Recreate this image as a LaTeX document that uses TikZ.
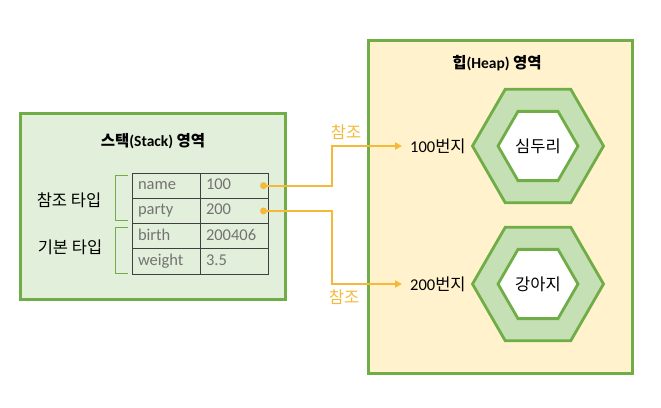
\documentclass[tikz,border=0pt]{standalone}
\usepackage{fontspec}
\setmainfont{Carlito}
\newfontfamily\krfont{Noto Sans CJK KR}
\usepackage{tikz}
\usetikzlibrary{shapes.geometric,positioning,arrows.meta,calc}
\usepackage{xcolor}
\definecolor{leafgreen}{HTML}{70AD47}
\definecolor{stackfill}{HTML}{E2EFDA}
\definecolor{heapfill}{HTML}{FFF2CC}
\definecolor{hexfill}{HTML}{C5E0B4}
\definecolor{refgold}{HTML}{F5B93A}
\tikzset{
  >={Triangle[length=7pt,width=7pt]},
}

\begin{document}
\begin{tikzpicture}[
  x=1pt, y=-1pt,
  every node/.style={font=\fontsize{16.5}{19}\selectfont},
  area/.style={draw=leafgreen,line width=3pt,inner sep=0pt},
  areatitle/.style={font=\fontsize{15.5}{18}\selectfont\bfseries},
  cell/.style={draw=black!75,line width=1pt,minimum height=25.3pt,text width=56pt,
    inner xsep=6pt,inner ysep=0pt,text height=11pt,text depth=3pt,align=left,text=black!55},
  bracket/.style={draw=leafgreen,line width=1pt},
  outerhex/.style={regular polygon,regular polygon sides=6,minimum size=131pt,inner sep=0pt,
    draw=leafgreen,fill=hexfill,line width=2.8pt},
  innerhex/.style={regular polygon,regular polygon sides=6,minimum size=80pt,inner sep=0pt,
    draw=leafgreen,fill=white,line width=2.8pt},
  ref/.style={draw=refgold,line width=2.2pt,->,shorten >=4pt},
  reflabel/.style={text=refgold}
]
\useasboundingbox (0,0) rectangle (661,407);

\node[area,fill=stackfill,minimum width=265pt,minimum height=186pt] (stack) at (152.5,206.5) {};
\node[area,fill=heapfill,minimum width=264pt,minimum height=333pt] (heap) at (500,206.5) {};

\node[areatitle] (stacktitle) at (153,141) {{\krfont 스택}(Stack) {\krfont 영역}};
\node[areatitle] (heaptitle) at (497,63) {{\krfont 힙}(Heap) {\krfont 영역}};

\foreach \k/\v [count=\i] in {name/100,party/200,birth/200406,weight/3.5} {
  \node[cell] (key\i) at (166,160.35+25.3*\i) {\k};
  \node[cell] (val\i) at (234,160.35+25.3*\i) {\v};
}

\draw[bracket] ($(key1.north west)+(-4,3)$) -| ($(key2.south west)+(-16,-4)$) -- ($(key2.south west)+(-4,-4)$);
\draw[bracket] ($(key3.north west)+(-4,4)$) -| ($(key4.south west)+(-16,-1)$) -- ($(key4.south west)+(-4,-1)$);

\node (reftype) at (69,200) {\krfont 참조 타입};
\node (primtype) at (70,247) {\krfont 기본 타입};

\node[outerhex] (hex1) at (538,146) {};
\node[innerhex] (core1) at (hex1.center) {\krfont 심두리};
\node[outerhex] (hex2) at (538,284) {};
\node[innerhex] (core2) at (hex2.center) {\krfont 강아지};

\node[anchor=west,inner sep=4pt] (addr1) at (406,146) {100{\krfont 번지}};
\node[anchor=west,inner sep=4pt] (addr2) at (406,284) {200{\krfont 번지}};

\coordinate (dot1) at ($(val1.east)+(-5,0)$);
\coordinate (dot2) at ($(val2.east)+(-5,0)$);
\coordinate (bend) at (332,0);

\draw[ref] (dot1) -- (dot1 -| bend) |- (addr1.west);
\draw[ref] (dot2) -- (dot2 -| bend) |- (addr2.west);
\fill[refgold] (dot1) circle[radius=3.5pt];
\fill[refgold] (dot2) circle[radius=3.5pt];

\node[reflabel] (reftext1) at (346,132) {\krfont 참조};
\node[reflabel] (reftext2) at (344,297) {\krfont 참조};
\end{tikzpicture}
\end{document}
